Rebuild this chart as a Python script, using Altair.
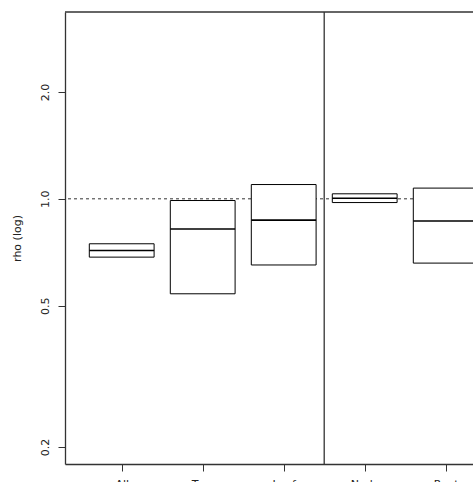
import altair as alt
import pandas as pd

# data
positions = [1, 2, 3, 4, 5]
names = ["All", "Tree", "Leaf", "Node", "Root"]
lower = [0.685, 0.540, 0.651, 0.976, 0.659]
median = [0.715, 0.822, 0.871, 1.004, 0.866]
upper = [0.747, 0.989, 1.097, 1.033, 1.072]
y_ticks = [0.2, 0.5, 1.0, 2.0]
half_width = 0.4

df = pd.DataFrame({"pos": positions, "name": names, "lo": lower, "mid": median, "hi": upper})
df["left"] = df["pos"] - half_width
df["right"] = df["pos"] + half_width

FONT = "DejaVu Sans"
xscale = alt.Scale(domain=[0.3, 5.337], nice=False, zero=False)
yscale = alt.Scale(type="log", domain=[0.179, 3.36], nice=False)

label_expr = "{" + ",".join(f"'{p}':'{n}'" for p, n in zip(positions, names)) + "}[datum.value]"

xaxis = alt.Axis(values=positions, labelExpr=label_expr, title=None, grid=False,
                 tickSize=7, labelPadding=7, labelFontSize=11, labelFont=FONT,
                 domainColor="#333333", domainWidth=1.3, tickColor="#333333",
                 labelColor="#222222", labelFlush=False, labelOverlap=False)
yaxis = alt.Axis(values=y_ticks, format=".1f", title="rho (log)", grid=False,
                 tickSize=7, labelPadding=8, labelFontSize=11, labelFont=FONT,
                 labelAngle=270, labelAlign="center", labelBaseline="bottom",
                 titleFont=FONT, titleFontSize=11, titleFontWeight="normal",
                 titleAngle=270, titleX=-48, titleY=226, titleAlign="center",
                 titleBaseline="middle", titleColor="#222222",
                 domainColor="#333333", domainWidth=1.3, tickColor="#333333",
                 labelColor="#222222", labelFlush=False, labelOverlap=False)

base = alt.Chart(df)

boxes = base.mark_rect(fill="white", stroke="black", strokeWidth=1, clip=True).encode(
    x=alt.X("left:Q", scale=xscale, axis=xaxis),
    x2="right:Q",
    y=alt.Y("lo:Q", scale=yscale, axis=yaxis),
    y2="hi:Q",
)

medians = base.mark_rule(color="black", strokeWidth=1.6, clip=True).encode(
    x=alt.X("left:Q", scale=xscale),
    x2="right:Q",
    y=alt.Y("mid:Q", scale=yscale),
)

ref_line = alt.Chart(pd.DataFrame({"v": [1.0]})).mark_rule(
    color="#333333", strokeWidth=1, strokeDash=[3, 3]
).encode(y=alt.Y("v:Q", scale=yscale))

divider = alt.Chart(pd.DataFrame({"d": [3.5]})).mark_rule(
    color="#333333", strokeWidth=1.3
).encode(x=alt.X("d:Q", scale=xscale))

top_edge = alt.Chart(pd.DataFrame({"t": [0]})).mark_rule(
    color="#333333", strokeWidth=1.3
).encode(y=alt.value(0))

chart = alt.layer(ref_line, boxes, medians, divider, top_edge).properties(
    width=408, height=452,
    autosize=alt.AutoSizeParams(type="none"),
    padding={"left": 65, "top": 12, "right": 0, "bottom": 18},
    background="white",
).configure_view(stroke=None)

chart.save("out.html", embed_options={"renderer": "svg", "actions": False})
